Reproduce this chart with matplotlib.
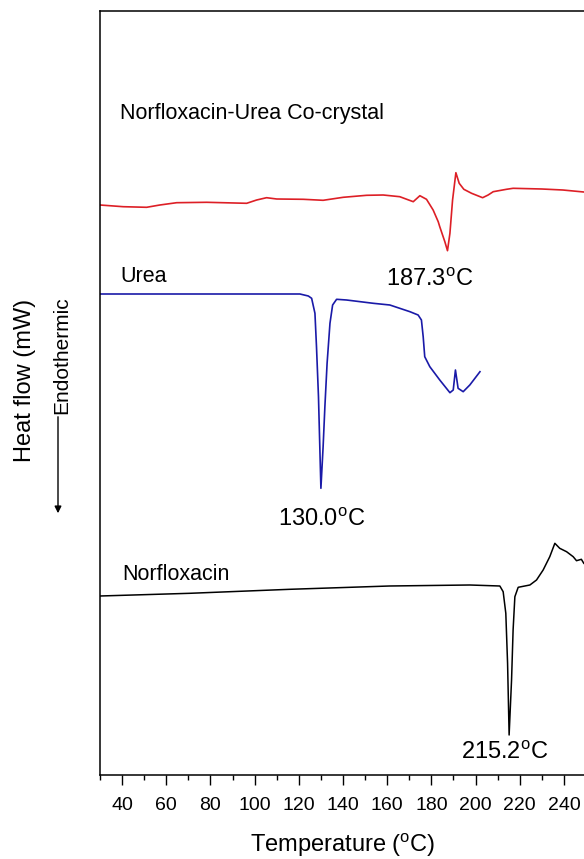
import matplotlib
matplotlib.use("Agg")
import matplotlib.pyplot as plt
from matplotlib.patches import FancyArrowPatch
from matplotlib.ticker import MultipleLocator

plt.rcParams["font.family"] = ["Liberation Sans", "DejaVu Sans"]
plt.rcParams["mathtext.fontset"] = "custom"
plt.rcParams["mathtext.rm"] = "Liberation Sans"

# Norfloxacin-Urea co-crystal (red), heat flow in stacked arbitrary units
cocrystal_t = [30, 40.5, 51.1, 57.1, 64.7, 78.3, 96.4, 100.9, 105.4, 110, 122, 131,
               140.1, 150.7, 158.2, 165.7, 171.8, 174.8, 177.8, 180.8, 183.1, 183.8,
               186.1, 187.3, 188.4, 189.6, 191.1, 192.6, 194.7, 198.2, 203.2, 205.7,
               208, 214, 217, 230, 239.5, 249]
cocrystal_hf = [570, 568.3, 567.7, 570, 572.3, 572.7, 571.7, 575, 577.3, 576, 575.7,
                574.7, 577.7, 579.7, 580, 578.3, 573.3, 579.3, 575.7, 565, 553.3, 548.3,
                533.3, 524.3, 541.7, 575, 602.3, 591.7, 585.7, 581.7, 577.3, 580, 583.3,
                585.7, 586.7, 586, 585, 583]

# Urea (blue)
urea_t = [30, 120.5, 124.3, 125.8, 127.3, 128, 128.9, 129.5, 130.0, 131, 131.8, 132.8,
          134.1, 135.3, 137.1, 141.6, 153.7, 161.2, 170.3, 174, 175.5, 176.3, 177,
          179.3, 183.8, 188.4, 189.9, 190.9, 192.1, 194.4, 197.4, 202]
urea_hf = [481, 481, 479, 476.7, 461.7, 428.3, 378.3, 328.3, 286.7, 328.3, 368.3, 411.7,
           451.7, 470, 475.7, 475, 471.7, 470, 463.3, 460, 455, 438.3, 418.3, 408.3,
           395, 382.3, 385, 405, 386.7, 383.3, 390, 403.3]

# Norfloxacin (black)
norf_t = [30, 70.7, 116, 161, 197.4, 211, 212.5, 213.7, 214.5, 215.2, 216.3, 217,
          217.8, 219.3, 224.6, 227.6, 230.6, 233.6, 235.9, 238.1, 241.2, 244.2, 245.7,
          247.9, 249]
norf_hf = [179, 181.7, 185.7, 189, 190, 189, 183.3, 161.7, 111.7, 40, 95, 145, 178.3,
           187.7, 190, 195, 205, 218.3, 231.7, 226.7, 223.3, 218.3, 214.3, 215.7, 211.7]

fig = plt.figure(figsize=(5.84, 8.59), dpi=100)
ax = fig.add_axes([100 / 584, 84 / 859, 486 / 584, 764 / 859])

ax.plot(cocrystal_t, cocrystal_hf, color="#dd1f26", lw=1.2)
ax.plot(urea_t, urea_hf, color="#1a1aa8", lw=1.2)
ax.plot(norf_t, norf_hf, color="black", lw=1.1)

ax.set_xlim(30, 250)
ax.set_ylim(0, 764)
ax.set_xticks(range(40, 260, 20))
ax.xaxis.set_minor_locator(MultipleLocator(10))
ax.set_yticks([])
ax.tick_params(axis="x", which="major", direction="out", length=7, width=1,
               labelsize=14, pad=9)
ax.tick_params(axis="x", which="minor", direction="out", length=3.5, width=1)
for s in ax.spines.values():
    s.set_linewidth(1.1)

ax.set_xlabel("Temperature ($^{\\rm o}$C)", fontsize=17, labelpad=12)

ax.text(39, 662, "Norfloxacin-Urea Co-crystal", fontsize=15.5, va="center", ha="left")
ax.text(39, 499, "Urea", fontsize=15.5, va="center", ha="left")
ax.text(40, 200, "Norfloxacin", fontsize=15.5, va="center", ha="left")

ax.text(179.3, 495, "187.3$^{\\rm o}$C", fontsize=17, va="center", ha="center")
ax.text(130.5, 255, "130.0$^{\\rm o}$C", fontsize=17, va="center", ha="center")
ax.text(213.3, 22, "215.2$^{\\rm o}$C", fontsize=17, va="center", ha="center")

fig.text(25 / 584, 1 - 380 / 859, "Heat flow (mW)", rotation=90, fontsize=17,
         va="center", ha="center")
fig.text(62 / 584, 1 - 355 / 859, "Endothermic", rotation=90, fontsize=15,
         va="center", ha="center")
fig.patches.append(FancyArrowPatch(
    (58 / 584, 1 - 414 / 859), (58 / 584, 1 - 516 / 859), transform=fig.transFigure,
    arrowstyle="-|>", mutation_scale=10, lw=1, color="black"))

fig.savefig("out.png", dpi=100)
